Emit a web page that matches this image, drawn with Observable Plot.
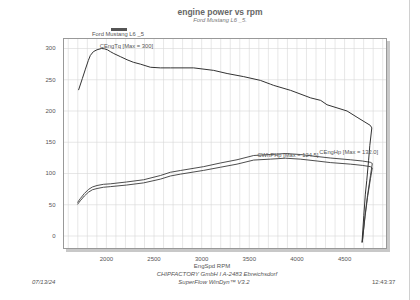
<!DOCTYPE html>
<html>
<head>
<meta charset="utf-8">
<script src="https://cdn.jsdelivr.net/npm/d3@7"></script>
<script src="https://cdn.jsdelivr.net/npm/@observablehq/plot@0.6"></script>
<style>
  html, body { margin: 0; padding: 0; background: #fff; }
  body { width: 420px; height: 300px; position: relative; overflow: hidden;
         font-family: "Liberation Sans", Arial, sans-serif; color: #555; }
  .t { position: absolute; white-space: nowrap; line-height: 1; }
  #chart { position: absolute; left: 0; top: 0; }
</style>
</head>
<body>
<div id="chart"></div>
<div class="t" style="left:0;width:440px;text-align:center;top:8px;font-size:8.5px;font-weight:bold;color:#666;">engine power vs rpm</div>
<div class="t" style="left:0;width:440px;text-align:center;top:18px;font-size:5.8px;font-style:italic;color:#777;">Ford Mustang L6 _5.</div>
<div style="position:absolute;left:111px;top:28px;width:16px;height:3px;background:#555;"></div>
<div class="t" style="left:92px;top:32px;font-size:5.8px;color:#555;">Ford Mustang L6 _5</div>
<div class="t" style="left:0;width:424px;text-align:center;top:263px;font-size:6px;color:#555;">EngSpd RPM</div>
<div class="t" style="left:0;width:434px;text-align:center;top:271px;font-size:6px;font-style:italic;color:#555;">CHIPFACTORY GmbH I A-2483 Ebreichsdorf</div>
<div class="t" style="left:0;width:428px;text-align:center;top:279px;font-size:6px;font-style:italic;color:#555;">SuperFlow WinDyn™ V3.2</div>
<div class="t" style="left:32px;top:279px;font-size:6px;font-style:italic;color:#555;">07/13/24</div>
<div class="t" style="left:372px;top:279px;font-size:6px;color:#555;">12:43:37</div>
<div style="position:absolute;left:409px;top:0;width:1px;height:300px;background:#d0d0d0;"></div>
<script>
// Torque curve (CEngTq), in run order
const tqRpm = [1709,1748,1780,1811,1832,1864,1902,1948,1979,2010,2042,2077,2147,2217,2283,2357,2462,2567,2672,2916,3126,3267,3441,3616,3721,3756,3934,4144,4249,4316,4526,4631,4770,4786,4765,4752,4733,4718,4702,4683];
const tqVal = [234,252,267,281,289,295,298,300,299.5,298,295,292,287,282,278,275,270,269,269,269,265,260,255,249,243,241,233,221,217,210,200,190,177,173,145,121,89,67,33,-10];

// Power curves (CEngHp, CWhPHp), in run order
const hpRpm = [1699,1727,1769,1811,1853,1902,1969,2042,2210,2391,2567,2672,2777,3021,3196,3371,3546,3721,3878,4035,4211,4350,4560,4686,4770,4791,4772,4741,4715,4686];
const engHp = [54,60,68,74.4,78.4,80.8,82.7,83.5,86.4,90,96.8,102,104.8,111,116.8,122,128.8,130.4,132,130.4,127.2,124.8,122,120,118,116,97,65,33,-9.6];
const whHp  = [51,56.5,64,70,74,76,78,79,81.5,85,91,96,99,105,110,115,121.5,123,124.5,123,120,117.5,115,113,111,109,92,62,31,-9];

const xTicks = [2000,2500,3000,3500,4000,4500];
const yTicks = [0,50,100,150,200,250,300];
const xGrid = d3.range(1600, 4901, 100);

const labels = [
  {rpm: 1930, v: 304, text: "CEngTq [Max = 300]"},
  {rpm: 3585, v: 129, text: "CWhPHp [Max = 124.5]"},
  {rpm: 4235, v: 134.5, text: "CEngHp [Max = 132.0]"}
];

const tq = tqRpm.map((r, i) => ({rpm: r, v: tqVal[i]}));
const eng = hpRpm.map((r, i) => ({rpm: r, v: engHp[i]}));
const wh = hpRpm.map((r, i) => ({rpm: r, v: whHp[i]}));

const chart = Plot.plot({
  width: 420,
  height: 300,
  marginLeft: 63,
  marginRight: 34,
  marginTop: 38,
  marginBottom: 52,
  style: {background: "transparent", fontFamily: "Liberation Sans, Arial, sans-serif", color: "#555"},
  x: {domain: [1550, 4940]},
  y: {domain: [-20, 316]},
  marks: [
    Plot.frame({fill: "#c8c8c8", stroke: "#c8c8c8", dx: 3, dy: 3}),
    Plot.frame({fill: "#fff"}),
    Plot.gridX(xGrid, {stroke: "#d6d6d6", strokeOpacity: 1, strokeWidth: 0.6}),
    Plot.gridY(yTicks, {stroke: "#d6d6d6", strokeOpacity: 1, strokeWidth: 0.6}),
    Plot.frame({stroke: "#999", strokeWidth: 1}),
    Plot.axisX(xTicks, {tickSize: 0, tickPadding: 8, fontSize: 6, fill: "#555", label: null, tickFormat: d3.format("d")}),
    Plot.axisY(yTicks, {tickSize: 0, tickPadding: 8, fontSize: 6, fill: "#555", label: null, tickFormat: d3.format("d")}),
    Plot.line(wh, {x: "rpm", y: "v", stroke: "#3a3a3a", strokeWidth: 0.9}),
    Plot.line(eng, {x: "rpm", y: "v", stroke: "#3a3a3a", strokeWidth: 0.9}),
    Plot.line(tq, {x: "rpm", y: "v", stroke: "#333", strokeWidth: 1}),
    Plot.text(labels, {x: "rpm", y: "v", text: "text", textAnchor: "start", fontSize: 5.8, fill: "#555"})
  ]
});
document.getElementById("chart").appendChild(chart);
</script>
</body>
</html>
